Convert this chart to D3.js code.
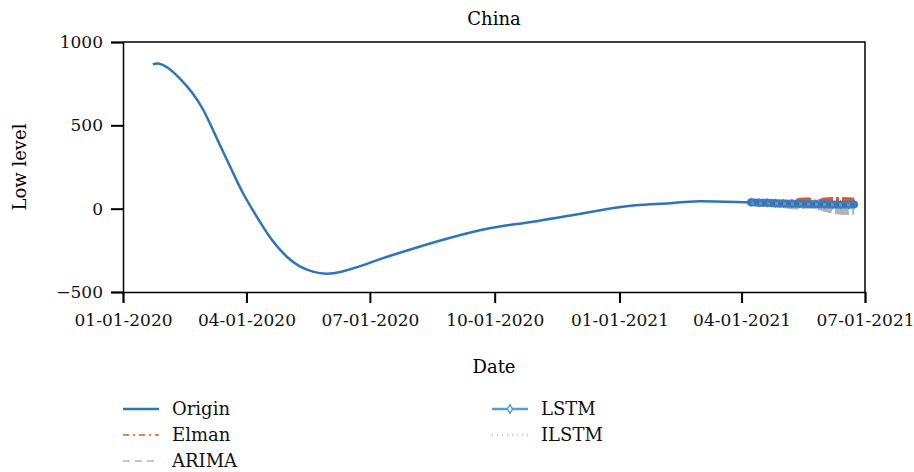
<!DOCTYPE html>
<html>
<head>
<meta charset="utf-8">
<script src="https://cdn.jsdelivr.net/npm/d3@7"></script>
<style>
  body { margin: 0; background: #fff; }
</style>
</head>
<body>
<script>
// observed series (date, value)
var originDates = ["2020-01-23","2020-01-27","2020-02-03","2020-02-12","2020-02-21","2020-02-29","2020-03-07",
  "2020-03-14","2020-03-21","2020-03-29","2020-04-08","2020-04-20","2020-05-01","2020-05-10","2020-05-20",
  "2020-05-30","2020-06-10","2020-06-25","2020-07-08","2020-08-01","2020-08-26","2020-09-20","2020-10-07",
  "2020-11-01","2020-11-25","2020-12-19","2021-01-13","2021-02-07","2021-03-01","2021-04-07","2021-05-10",
  "2021-06-23"];
var originValues = [866, 871, 846, 780, 695, 595, 478, 355, 235, 100, -40, -190, -290, -345, -378,
  -390, -378, -342, -304, -242, -182, -130, -104, -75, -42, -8, 20, 33, 45, 38, 30, 20];

// forecast window
var forecastDates = ["2021-04-08","2021-04-14","2021-04-20","2021-04-26","2021-05-02","2021-05-08","2021-05-14",
  "2021-05-20","2021-05-26","2021-06-01","2021-06-07","2021-06-13","2021-06-19","2021-06-23"];
var lstmValues  = [38, 36, 35, 33, 31, 30, 29, 28, 27, 26, 25, 24, 24, 25];
var elmanValues = [40, 38, 36, 34, 32, 36, 48, 50, 34, 49, 52, 52, 50, 47];
var arimaValues = [42, 32, 28, 25, 22, 15, 12, 20, 15, 0, -12, -18, -20, -18];
var ilstmValues = [34, 33, 32, 31, 30, 29, 28, 27, 26, 25, 24, 23, 23, 24];

var yTicks = [-500, 0, 500, 1000];
var xTickDates = ["2020-01-01","2020-04-01","2020-07-01","2020-10-01","2021-01-01","2021-04-01","2021-07-01"];

var legendItems = [
  {name: "Origin", col: 0, row: 0, color: "#2e75b6", width: 2.5, dash: null},
  {name: "Elman",  col: 0, row: 1, color: "#e05a1f", width: 1.5, dash: "6,4,2,4"},
  {name: "ARIMA",  col: 0, row: 2, color: "#b4b4b4", width: 1.5, dash: "7,5"},
  {name: "LSTM",   col: 1, row: 0, color: "#5b9bd5", width: 2.5, dash: null, marker: true},
  {name: "ILSTM",  col: 1, row: 1, color: "#888888", width: 1,   dash: "1,4"}
];

var FONT = "DejaVu Serif";

var width = 914, height = 472;
var margin = {top: 42, right: 49, bottom: 180, left: 123};
var innerW = width - margin.left - margin.right;
var innerH = height - margin.top - margin.bottom;
var parse = d3.timeParse("%Y-%m-%d");

var svg = d3.select("body").append("svg")
  .attr("width", width)
  .attr("height", height)
  .attr("font-family", FONT);

var canvas = svg.append("g")
  .attr("transform", "translate(" + margin.left + "," + margin.top + ")");

var x = d3.scaleTime()
  .domain([parse("2020-01-01"), parse("2021-07-01")])
  .range([0, innerW]);

var y = d3.scaleLinear()
  .domain([-500, 1000])
  .range([innerH, 0]);

function zip(dates, values) {
  return dates.map(function(d, i) { return {date: parse(d), value: values[i]}; });
}

var lineSmooth = d3.line()
  .x(function(d) { return x(d.date); })
  .y(function(d) { return y(d.value); })
  .curve(d3.curveNatural);

var lineStraight = d3.line()
  .x(function(d) { return x(d.date); })
  .y(function(d) { return y(d.value); });

// frame (top and right)
canvas.append("path")
  .attr("d", "M0,0H" + innerW + "V" + innerH)
  .attr("fill", "none")
  .attr("stroke", "#000")
  .attr("stroke-width", 1.5);

// forecast series
canvas.append("path")
  .datum(zip(forecastDates, arimaValues))
  .attr("d", lineStraight)
  .attr("fill", "none")
  .attr("stroke", "#b4b4b4")
  .attr("stroke-width", 6)
  .attr("stroke-dasharray", "14,3");

canvas.append("path")
  .datum(zip(forecastDates, elmanValues))
  .attr("d", lineStraight)
  .attr("fill", "none")
  .attr("stroke", "#e05a1f")
  .attr("stroke-width", 6)
  .attr("stroke-dasharray", "14,3,3,3");

var lstmData = zip(forecastDates, lstmValues);
canvas.append("path")
  .datum(lstmData)
  .attr("d", lineStraight)
  .attr("fill", "none")
  .attr("stroke", "#3a7cc4")
  .attr("stroke-width", 8)
  .attr("stroke-linecap", "round");

canvas.selectAll("path.diamond")
  .data(lstmData)
  .enter()
    .append("path")
      .attr("class", "diamond")
      .attr("d", d3.symbol().type(d3.symbolDiamond).size(28))
      .attr("transform", function(d) { return "translate(" + x(d.date) + "," + y(d.value) + ")"; })
      .attr("fill", "#3a7cc4");

// origin
canvas.append("path")
  .datum(zip(originDates, originValues))
  .attr("d", lineSmooth)
  .attr("fill", "none")
  .attr("stroke", "#2e75b6")
  .attr("stroke-width", 2.5);

canvas.append("path")
  .datum(zip(forecastDates, ilstmValues))
  .attr("d", lineStraight)
  .attr("fill", "none")
  .attr("stroke", "#8a8a8a")
  .attr("stroke-width", 3)
  .attr("stroke-dasharray", "3,5");

// axes
canvas.append("g")
  .attr("class", "x axis")
  .attr("transform", "translate(0," + innerH + ")")
  .call(d3.axisBottom(x)
    .tickValues(xTickDates.map(parse))
    .tickFormat(d3.timeFormat("%m-%d-%Y"))
    .tickSizeOuter(0)
    .tickSize(11)
    .tickPadding(11));

canvas.append("g")
  .attr("class", "y axis")
  .call(d3.axisLeft(y)
    .tickValues(yTicks)
    .tickFormat(function(d) { return d < 0 ? "\u2212" + Math.abs(d) : d; })
    .tickSizeOuter(0)
    .tickSize(12)
    .tickPadding(8));

svg.selectAll(".axis").attr("font-family", FONT);
svg.selectAll(".axis path").attr("stroke", "#000").attr("stroke-width", 1.5);
svg.selectAll(".axis line").attr("stroke", "#000").attr("stroke-width", 2);
svg.selectAll(".axis text").attr("font-size", 17).attr("fill", "#111");

// titles
svg.append("text")
  .attr("x", margin.left + innerW / 2)
  .attr("y", 25)
  .attr("text-anchor", "middle")
  .attr("font-size", 18)
  .text("China");

svg.append("text")
  .attr("x", margin.left + innerW / 2)
  .attr("y", 373)
  .attr("text-anchor", "middle")
  .attr("font-size", 18)
  .text("Date");

svg.append("text")
  .attr("transform", "translate(26," + (margin.top + innerH / 2) + ") rotate(-90)")
  .attr("text-anchor", "middle")
  .attr("font-size", 18)
  .text("Low level");

// legend
var legend = svg.append("g").attr("class", "legend");
var colX = [123, 492], rowY = [409, 435, 461];

legendItems.forEach(function(item) {
  var gx = colX[item.col], gy = rowY[item.row];
  var ln = legend.append("line")
    .attr("x1", gx).attr("x2", gx + 36)
    .attr("y1", gy).attr("y2", gy)
    .attr("stroke", item.color)
    .attr("stroke-width", item.width);
  if (item.dash) ln.attr("stroke-dasharray", item.dash);
  if (item.marker) {
    legend.append("path")
      .attr("d", d3.symbol().type(d3.symbolDiamond).size(22))
      .attr("transform", "translate(" + (gx + 18) + "," + gy + ")")
      .attr("fill", "#fff")
      .attr("stroke", item.color)
      .attr("stroke-width", 1.5);
  }
  legend.append("text")
    .attr("x", gx + 49)
    .attr("y", gy)
    .attr("dy", "0.35em")
    .attr("font-size", 18)
    .attr("fill", "#111")
    .text(item.name);
});
</script>
</body>
</html>
